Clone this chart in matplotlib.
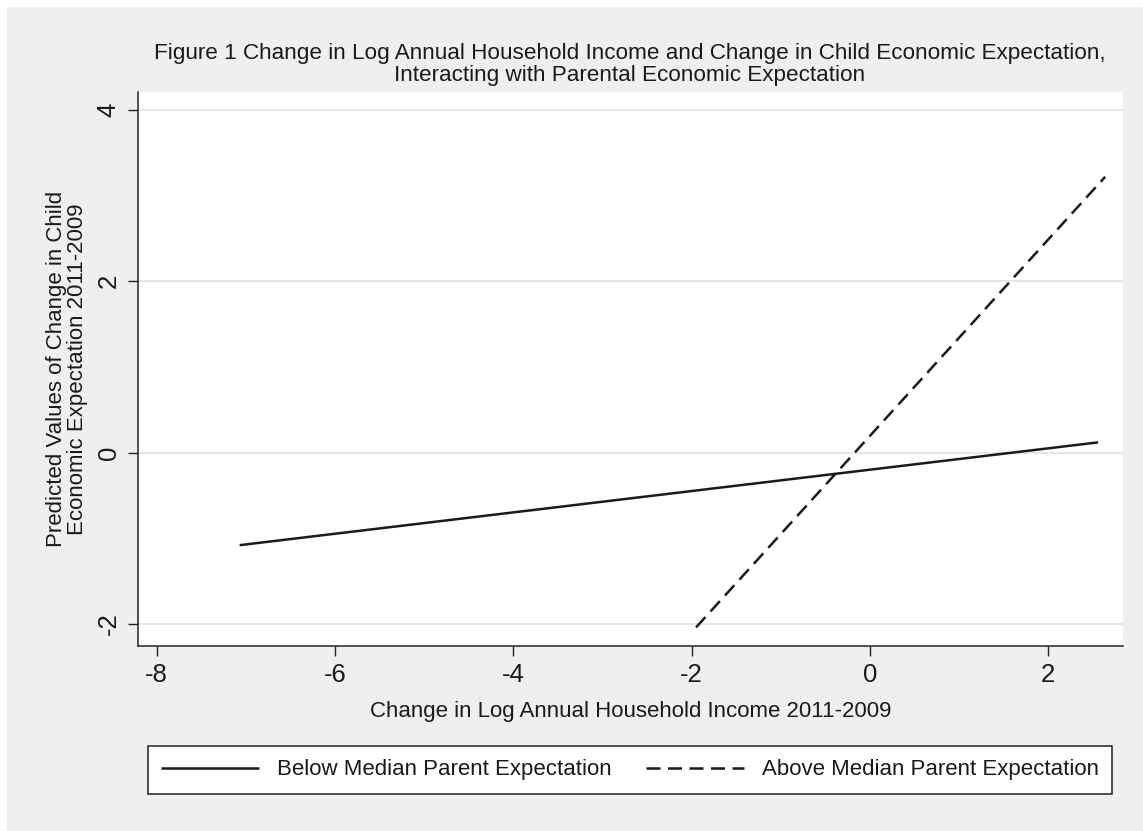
import matplotlib
matplotlib.use('Agg')
import matplotlib.pyplot as plt
from matplotlib.patches import Rectangle
import numpy as np

plt.rcParams['font.family'] = ['Liberation Sans', 'DejaVu Sans']
plt.rcParams['axes.unicode_minus'] = False

# predicted values at the ends of each group's income range
below_x = [-7.07, 2.56]
below_y = [-1.08, 0.12]
above_x = [-1.95, 2.64]
above_y = [-2.04, 3.22]

x_ticks = [-8, -6, -4, -2, 0, 2]
y_ticks = [-2, 0, 2, 4]

title = ('Figure 1 Change in Log Annual Household Income and Change in Child Economic Expectation,\n'
         'Interacting with Parental Economic Expectation')
x_label = 'Change in Log Annual Household Income 2011-2009'
y_label = 'Predicted Values of Change in Child\nEconomic Expectation 2011-2009'
labels = ['Below Median Parent Expectation', 'Above Median Parent Expectation']

W, H = 1143, 831
bg = '#efefef'
ink = '#1a1a1a'

fig = plt.figure(figsize=(W / 100, H / 100), dpi=100, facecolor='white')
# grey graph region, leaving a thin white strip on the top and left
fig.patches.append(Rectangle((7 / W, 0), 1, 1 - 7 / H, transform=fig.transFigure,
                             facecolor=bg, edgecolor='none', zorder=-10))

ax = fig.add_axes([138 / W, 1 - 646 / H, (1123 - 138) / W, (646 - 92) / H])
ax.set_facecolor('white')

ax.plot(below_x, below_y, color=ink, lw=1.8, solid_capstyle='butt', label=labels[0])
ax.plot(above_x, above_y, color=ink, lw=1.8, dashes=(5.6, 3.0), label=labels[1])

ax.set_xlim(-8.21, 2.84)
ax.set_ylim(-2.257, 4.21)
ax.set_xticks(x_ticks)
ax.set_yticks(y_ticks)
ax.grid(axis='y', color='#e6e6e6', lw=1.4)
ax.set_axisbelow(True)

for side in ['top', 'right']:
    ax.spines[side].set_visible(False)
for side in ['left', 'bottom']:
    ax.spines[side].set_color('#222222')
    ax.spines[side].set_linewidth(1.1)

ax.tick_params(axis='both', length=7.5, width=1.0, color='#222222', labelsize=18.5,
               labelcolor=ink, pad=5)
for lab in ax.get_yticklabels():
    lab.set_rotation(90)
    lab.set_va('center')

ax.set_xlabel(x_label, fontsize=16, color=ink, va='center')
ax.xaxis.set_label_coords(0.5, -(712 - 646) / (646 - 92))
fig.text(67 / W, 1 - 369 / H, y_label, rotation=90, ha='center', va='center',
         fontsize=16, color=ink, multialignment='center', linespacing=1.05)

fig.text(630 / W, 1 - 64.5 / H, title, ha='center', va='center', fontsize=16.2,
         color=ink, multialignment='center', linespacing=1.05)

leg = fig.legend(loc='center', ncol=2, mode='expand',
                 bbox_to_anchor=(148 / W, 1 - 797 / H, (1112 - 148) / W, 54 / H),
                 fontsize=16, frameon=True, fancybox=False, framealpha=1,
                 edgecolor='#222222', handlelength=4.4, handletextpad=0.8,
                 borderaxespad=0, borderpad=0.6)
leg.get_frame().set_linewidth(1.1)
for t in leg.get_texts():
    t.set_color(ink)

fig.savefig('out.png', dpi=100, facecolor=fig.get_facecolor())
